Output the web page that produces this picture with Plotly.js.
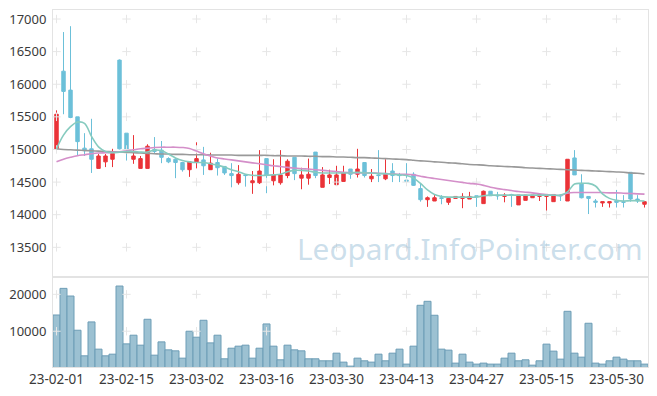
<!DOCTYPE html>
<html>
<head>
<meta charset="utf-8">
<script src="https://cdn.plot.ly/plotly-3.0.1.min.js"></script>
<style>html,body{margin:0;padding:0;background:#fff;}#chart{width:657px;height:396px;}</style>
</head>
<body>
<div id="chart"></div>
<script>
const dates = ["23-02-01","23-02-02","23-02-03","23-02-06","23-02-07","23-02-08","23-02-09","23-02-10","23-02-13","23-02-14",
"23-02-15","23-02-16","23-02-17","23-02-20","23-02-21","23-02-22","23-02-23","23-02-24","23-02-27","23-02-28",
"23-03-02","23-03-03","23-03-06","23-03-07","23-03-08","23-03-09","23-03-10","23-03-13","23-03-14","23-03-15",
"23-03-16","23-03-17","23-03-20","23-03-21","23-03-22","23-03-23","23-03-24","23-03-27","23-03-28","23-03-29",
"23-03-30","23-03-31","23-04-03","23-04-04","23-04-05","23-04-06","23-04-07","23-04-10","23-04-11","23-04-12",
"23-04-13","23-04-14","23-04-17","23-04-18","23-04-19","23-04-20","23-04-21","23-04-24","23-04-25","23-04-26",
"23-04-27","23-04-28","23-05-02","23-05-03","23-05-04","23-05-08","23-05-09","23-05-10","23-05-11","23-05-12",
"23-05-15","23-05-16","23-05-17","23-05-18","23-05-19","23-05-22","23-05-23","23-05-24","23-05-25","23-05-26",
"23-05-30","23-05-31","23-06-01","23-06-02","23-06-05"];

const openP = [15000,16200,15910,15500,15020,15010,14710,14810,14850,16370,
15250,14850,14710,14710,15000,14990,14860,14850,14800,14690,
14800,14840,14690,14800,14740,14630,14490,14610,14490,14490,
14860,14520,14490,14600,14880,14560,14560,14960,14420,14570,
14460,14510,14700,14620,14800,14550,14610,14550,14670,14610,
14530,14620,14400,14230,14210,14260,14190,14250,14250,14240,
14290,14170,14360,14300,14280,14310,14150,14220,14260,14280,
14280,14200,14300,14210,14870,14480,14280,14210,14180,14180,
14210,14200,14650,14240,14160];
const highP = [15600,16800,16890,15500,15250,15470,14930,14930,15010,16380,
15250,15220,14900,15080,15190,15130,14880,14870,14810,14820,
15110,15040,14950,14860,14740,14790,14760,14610,14670,14990,
14860,14850,14990,14850,14880,14720,14860,14960,14730,14690,
14750,14750,14700,15010,14800,14700,14990,14850,14790,14640,
14790,14650,14480,14280,14300,14300,14260,14280,14330,14350,
14290,14370,14360,14350,14330,14320,14300,14300,14300,14310,
14310,14310,14310,14850,14990,14620,14280,14240,14200,14200,
14380,14300,14650,14300,14210];
const lowP = [14970,15540,15480,14900,14900,14640,14710,14730,14730,15000,
14830,14780,14710,14710,14930,14790,14790,14560,14660,14580,
14710,14610,14690,14600,14610,14420,14460,14430,14320,14470,
14330,14450,14460,14560,14530,14390,14460,14560,14420,14470,
14460,14510,14550,14570,14570,14500,14500,14530,14500,14500,
14500,14440,14200,14120,14210,14160,14150,14250,14100,14240,
14120,14170,14290,14230,14190,14120,14150,14220,14260,14210,
14050,14200,14210,14210,14610,14250,14010,14110,14120,14110,
14110,14110,14200,14180,14110];
const closeP = [15540,15890,15490,15120,14980,14850,14900,14900,14940,15010,
15000,14900,14860,15050,14970,14880,14810,14800,14690,14810,
14860,14750,14790,14720,14640,14600,14620,14600,14520,14670,
14600,14610,14610,14820,14630,14610,14620,14600,14610,14610,
14610,14640,14620,14700,14600,14590,14600,14620,14600,14600,
14510,14450,14230,14260,14260,14250,14250,14280,14280,14280,
14280,14360,14290,14290,14300,14300,14300,14300,14300,14310,
14310,14310,14290,14850,14610,14260,14250,14190,14200,14200,
14190,14190,14240,14210,14200];

const ma5 = [15010,15220,15350,15420,15400,15200,15040,14970,14950,14960,
14970,14970,14960,14960,14990,14980,14930,14870,14830,14810,
14800,14800,14780,14760,14730,14690,14660,14620,14605,14600,
14605,14610,14620,14660,14680,14680,14670,14650,14640,14640,
14640,14640,14640,14650,14640,14640,14630,14630,14620,14610,
14600,14560,14480,14380,14310,14280,14270,14270,14270,14270,
14270,14290,14300,14300,14300,14300,14300,14300,14300,14300,
14300,14300,14300,14350,14470,14480,14480,14440,14320,14250,
14220,14210,14215,14215,14210];
const ma20 = [14810,14850,14880,14905,14920,14935,14945,14950,14955,14965,
14980,14995,15010,15020,15030,15035,15035,15035,15030,15015,
14975,14935,14900,14870,14855,14840,14825,14810,14795,14780,
14765,14750,14740,14725,14715,14705,14700,14690,14680,14670,
14660,14650,14645,14640,14640,14640,14635,14630,14625,14620,
14620,14610,14590,14570,14555,14540,14525,14510,14495,14480,
14470,14450,14420,14400,14385,14370,14355,14345,14335,14320,
14310,14300,14295,14330,14340,14340,14340,14340,14340,14335,
14335,14330,14325,14320,14315];
const ma60 = [15010,15000,14995,14990,14985,14980,14975,14970,14965,14960,
14955,14950,14945,14940,14935,14930,14930,14925,14925,14920,
14920,14920,14915,14915,14915,14915,14910,14910,14910,14910,
14910,14905,14905,14900,14900,14900,14895,14895,14890,14890,
14885,14885,14880,14875,14875,14870,14865,14860,14855,14850,
14845,14835,14825,14820,14810,14805,14795,14790,14780,14770,
14765,14760,14750,14745,14740,14735,14730,14720,14715,14710,
14705,14700,14695,14690,14685,14680,14675,14670,14665,14660,
14655,14650,14640,14635,14625];

const volume = [14400,21620,19540,10270,3330,12520,5140,3330,3780,22250,
6570,8920,6220,13240,3510,7110,4950,4680,2700,10000,
8380,12970,6840,8920,2520,5400,5950,6220,2700,5400,
11970,5950,2250,6220,4950,4680,2520,2520,1980,1980,
4050,1620,540,2700,1980,1620,3780,1980,4050,5140,
1080,5950,17030,18110,14330,5140,4870,1350,3780,1620,
1080,1350,1080,1080,2700,4050,1980,2250,800,1980,
6500,4600,2430,15400,4050,2970,12160,1350,1080,1980,
2970,2430,1980,1980,1080];

const xTickIdx = [0,10,20,30,40,50,60,70,80];
const xTickVals = xTickIdx.map(i => dates[i]);
const priceTicks = [13500,14000,14500,15000,15500,16000,16500,17000];
const volTicks = [10000,20000];

const gx = [], gy = [], gx2 = [], gy2 = [];
xTickVals.forEach(d => {
  priceTicks.forEach(v => { gx.push(d); gy.push(v); });
  volTicks.forEach(v => { gx2.push(d); gy2.push(v); });
});

const tickFont = {family: 'Noto Sans, sans-serif', size: 13, color: '#3a3a3a'};
const frame = '#e3e3e3';
const crossMarker = {symbol:'cross-thin-open', size:6, color:'#e6e6e6', line:{color:'#e6e6e6', width:1}};

const traces = [
  {type:'scatter', mode:'markers', x:gx, y:gy, xaxis:'x', yaxis:'y', hoverinfo:'skip', showlegend:false, marker:crossMarker},
  {type:'scatter', mode:'markers', x:gx2, y:gy2, xaxis:'x2', yaxis:'y2', hoverinfo:'skip', showlegend:false, marker:crossMarker},
  {type:'scatter', mode:'lines', x:dates, y:ma60, xaxis:'x', yaxis:'y', showlegend:false,
   line:{color:'#999999', width:1.6, shape:'spline'}},
  {type:'scatter', mode:'lines', x:dates, y:ma20, xaxis:'x', yaxis:'y', showlegend:false,
   line:{color:'#d48fc9', width:1.6, shape:'spline'}},
  {type:'scatter', mode:'lines', x:dates, y:ma5, xaxis:'x', yaxis:'y', showlegend:false,
   line:{color:'#86cbbf', width:1.6, shape:'spline'}},
  {type:'candlestick', x:dates, open:openP, high:highP, low:lowP, close:closeP, xaxis:'x', yaxis:'y', showlegend:false,
   whiskerwidth:0,
   increasing:{line:{color:'#ea3338', width:1}, fillcolor:'#ea3338'},
   decreasing:{line:{color:'#6cc0d9', width:1}, fillcolor:'#6cc0d9'}},
  {type:'bar', x:dates, y:volume, xaxis:'x2', yaxis:'y2', showlegend:false,
   marker:{color:'#9cc1d2', line:{color:'#6d9db6', width:1}}}
];

const volDom = 90/357;
const layout = {
  width:657, height:396,
  margin:{l:53, r:9, t:10, b:29},
  paper_bgcolor:'#fff', plot_bgcolor:'#fff',
  showlegend:false,
  bargap:0,
  xaxis:{type:'category', categoryorder:'array', categoryarray:dates, range:[-0.5, dates.length-0.5],
         anchor:'y', showticklabels:false, showgrid:false, zeroline:false,
         showline:true, mirror:true, linecolor:frame, linewidth:1, rangeslider:{visible:false}, fixedrange:true},
  yaxis:{domain:[volDom,1], range:[13045,17138], tickvals:priceTicks, ticktext:priceTicks.map(String),
         showgrid:false, zeroline:false, showline:true, mirror:true, linecolor:frame, linewidth:1,
         tickfont:tickFont, ticks:'', ticklabelstandoff:3},
  xaxis2:{type:'category', categoryorder:'array', categoryarray:dates, range:[-0.5, dates.length-0.5],
         anchor:'y2', tickvals:xTickVals, ticktext:xTickVals, tickfont:{family:'Noto Sans, sans-serif', size:13.5, color:'#3a3a3a'}, ticks:'',
         showgrid:false, zeroline:false, showline:true, mirror:true, linecolor:frame, linewidth:1, tickangle:0},
  yaxis2:{domain:[0,volDom], range:[300,24700], tickvals:volTicks, ticktext:volTicks.map(String),
         showgrid:false, zeroline:false, showline:true, mirror:true, linecolor:frame, linewidth:1,
         tickfont:tickFont, ticks:'', ticklabelstandoff:3},
  annotations:[{
    text:'Leopard.InfoPointer.com', xref:'paper', yref:'paper', x:(295-53)/595, y:(367-248)/357,
    xanchor:'left', yanchor:'middle', showarrow:false,
    font:{family:'Noto Sans, sans-serif', size:29.8, color:'rgba(160,195,218,0.55)'}
  }]
};

Plotly.newPlot('chart', traces, layout, {displayModeBar:false, staticPlot:true});
</script>
</body>
</html>
